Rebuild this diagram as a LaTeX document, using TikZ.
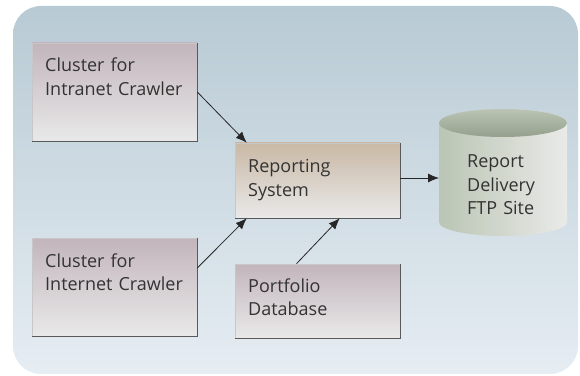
\documentclass[tikz,border=0pt]{standalone}
\usepackage{fontspec}
\setmainfont{Open Sans}
\usetikzlibrary{arrows.meta}
\definecolor{bgtop}{HTML}{B8CAD4}
\definecolor{bgbot}{HTML}{E6EDF3}
\definecolor{mauve}{HTML}{C2B5BC}
\definecolor{tan}{HTML}{C9B8A5}
\definecolor{boxbot}{HTML}{E9E9E9}
\definecolor{ink}{HTML}{333333}
\definecolor{cyldark}{HTML}{BAC5B4}
\definecolor{cyllight}{HTML}{EAEAE8}
\definecolor{cyltop}{HTML}{A5B19C}
\begin{document}
\begin{tikzpicture}[
x=1pt,y=1pt,
box/.style={rectangle,draw=black!22,line width=0.6pt,top color=mauve,bottom color=boxbot,
  minimum width=165pt,inner sep=0pt},
repbox/.style={box,top color=tan},
label/.style={anchor=base west,inner sep=0pt,text width=150pt,align=left,text=ink,
  font=\fontsize{18}{23.5}\selectfont},
shadow/.style={draw=black!65,line width=0.9pt},
flow/.style={draw=black!85,line width=0.8pt,-{Latex[length=11pt,width=9pt]}}
]
\useasboundingbox (0,0) rectangle (580,375);
% backdrop
\shade[top color=bgtop,bottom color=bgbot,rounded corners=28pt] (13,1) rectangle (578,369);

% boxes
\node[box,minimum height=98pt] (intra) at (114.5,283) {};
\node[box,minimum height=98pt] (inet) at (114.5,88) {};
\node[repbox,minimum height=75pt] (rep) at (317.5,194.5) {};
\node[box,minimum height=74pt] (port) at (317.5,74) {};
\foreach \b in {intra,inet,rep,port}
  \draw[shadow] (\b.north east) -- (\b.south east) -- (\b.south west);

\node[label] (intra-t) at (45,303) {Cluster for\\Intranet Crawler};
\node[label] (inet-t) at (45,108) {Cluster for\\Internet Crawler};
\node[label] (rep-t) at (248,202) {Reporting\\System};
\node[label] (port-t) at (248,83) {Portfolio\\Database};

% ftp site
\shade[left color=cyldark,right color=cyllight]
  (439,252) -- (439,153) arc[start angle=180,end angle=360,x radius=64pt,y radius=14pt]
  -- (567,252) arc[start angle=0,end angle=180,x radius=64pt,y radius=14pt] -- cycle;
\shade[top color=cyltop!75!white,bottom color=cyltop!90!black] (503,252) ellipse[x radius=64pt,y radius=14pt];
\coordinate (ftp) at (439,197);
\node[label] (ftp-t) at (467,207) {Report\\Delivery\\FTP Site};

% arrows
\draw[flow] (intra.east) -- ([xshift=12pt]rep.north west);
\draw[flow] ([yshift=19pt]inet.east) -- ([xshift=12pt]rep.south west);
\draw[flow] ([xshift=-21pt]port.north) -- ([xshift=105pt]rep.south west);
\draw[flow] (rep.east |- ftp) -- (ftp);
\end{tikzpicture}
\end{document}
